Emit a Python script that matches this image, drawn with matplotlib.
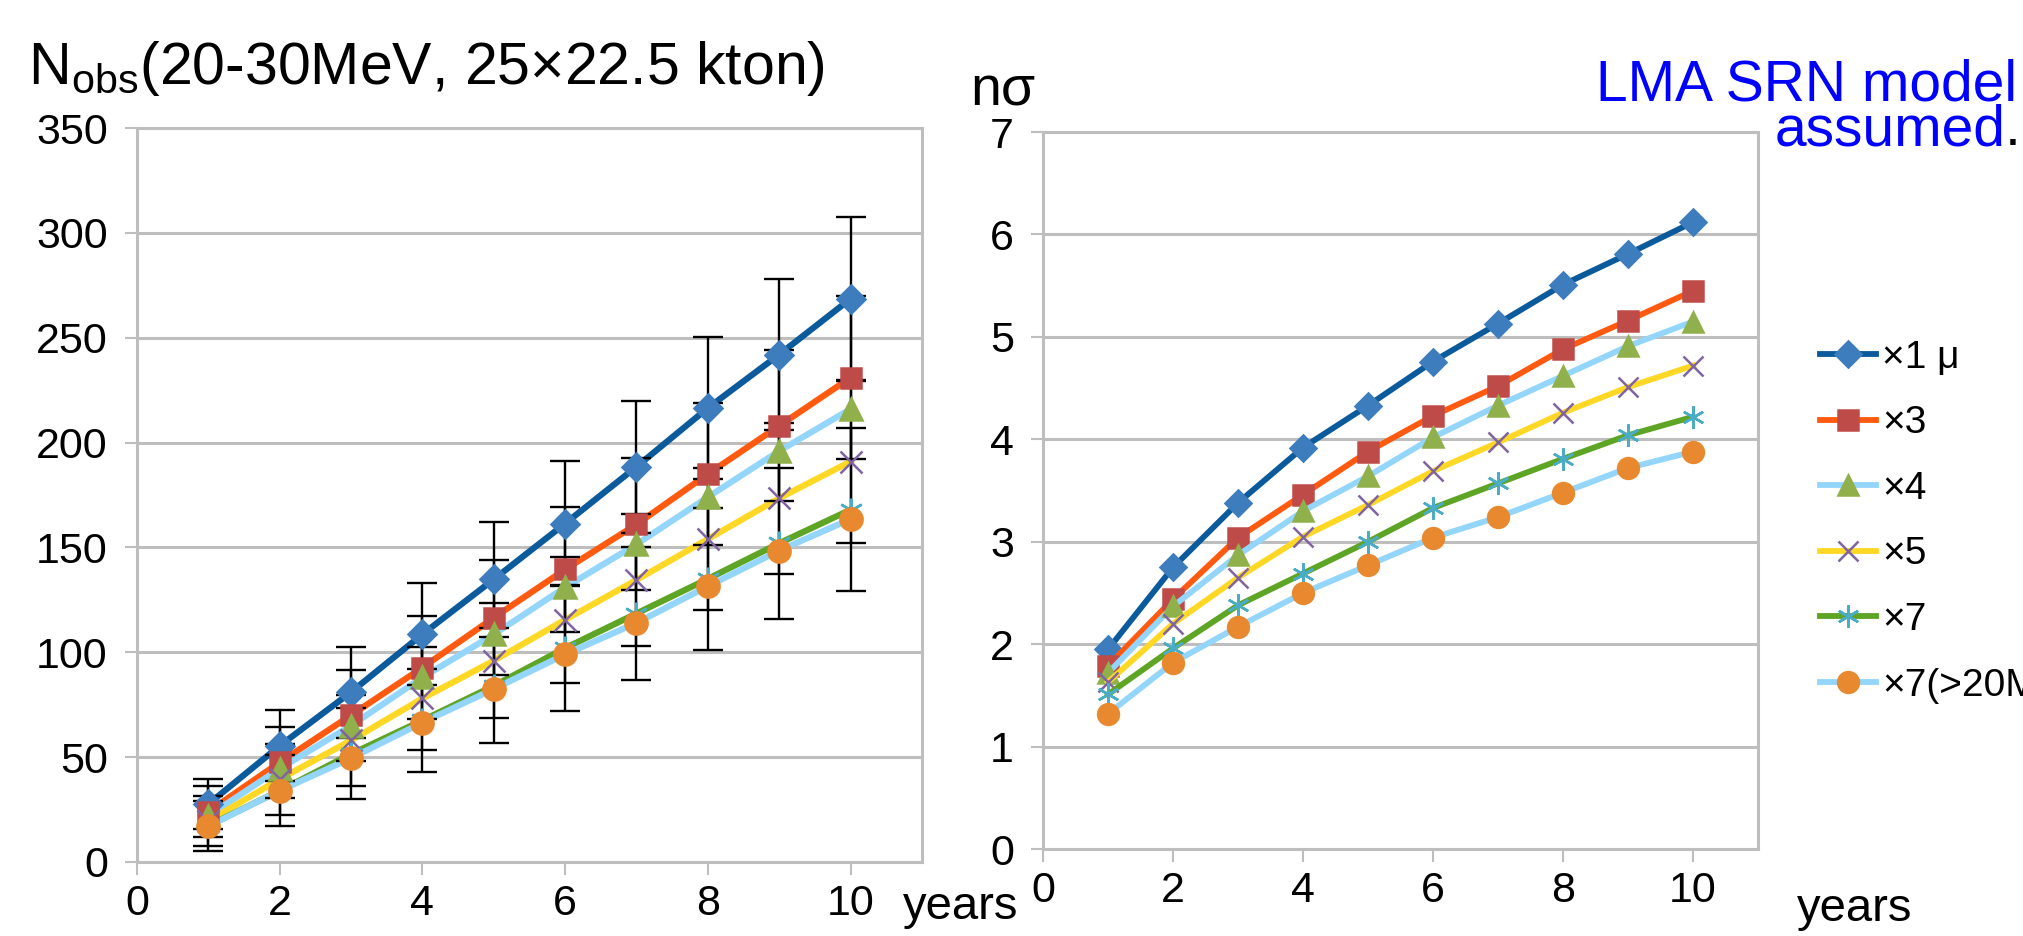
import matplotlib
matplotlib.use('Agg')
import matplotlib.pyplot as plt

plt.rcParams['font.family'] = ['Liberation Sans', 'DejaVu Sans']

# años de observación
years = [1, 2, 3, 4, 5, 6, 7, 8, 9, 10]
labels = ['×1 μ', '×3', '×4', '×5', '×7', '×7(>20MeV)']

# N_obs (20-30 MeV, 25x22.5 kton)
n_mu1 = [27.6, 55.4, 81, 108.6, 134.8, 161.4, 188.5, 216.5, 242, 268.6]
n_x3 = [24, 47.5, 70, 92.7, 116.5, 139.5, 161, 185, 208, 231]
n_x4 = [22, 44.5, 65, 88, 108.5, 131, 151.5, 174, 196, 216]
n_x5 = [19.5, 39.5, 58, 78, 96, 115.5, 134.5, 154, 173.5, 191]
n_x7 = [17.3, 34, 51.5, 67.5, 84, 102, 118.5, 135, 152, 168]
n_x7e = [17, 34, 49.5, 66.5, 82.5, 99, 114, 131.5, 148.5, 163.5]
err_n = [12, 17, 21.7, 24.4, 27.4, 30, 31.5, 34, 36, 39]

# significancia n sigma
s_mu1 = [1.95, 2.75, 3.38, 3.92, 4.33, 4.76, 5.13, 5.51, 5.81, 6.12]
s_x3 = [1.79, 2.44, 3.04, 3.46, 3.88, 4.23, 4.52, 4.88, 5.16, 5.45]
s_x4 = [1.72, 2.37, 2.87, 3.30, 3.64, 4.02, 4.33, 4.62, 4.91, 5.15]
s_x5 = [1.63, 2.20, 2.65, 3.05, 3.36, 3.69, 3.97, 4.26, 4.51, 4.72]
s_x7 = [1.51, 1.96, 2.38, 2.69, 3.00, 3.33, 3.57, 3.81, 4.04, 4.22]
s_x7e = [1.32, 1.82, 2.17, 2.50, 2.77, 3.04, 3.24, 3.48, 3.72, 3.88]

n_series = [n_mu1, n_x3, n_x4, n_x5, n_x7, n_x7e]
s_series = [s_mu1, s_x3, s_x4, s_x5, s_x7, s_x7e]
con_error = [True, True, False, True, True, False]

# estilo de cada serie: color de linea, marcador, color de marcador, tamaño
line_colors = ['#0B5A9B', '#FF5A10', '#93D5FB', '#FFD826', '#5EA425', '#93D5FB']
markers = ['D', 's', '^', 'x', (6, 2, 0), 'o']
marker_colors = ['#3D7DBE', '#BE4B48', '#8FB04A', '#8064A2', '#4BACC6', '#E8892F']
marker_sizes = [14, 15, 16, 16, 17, 16]

grid_gray = '#BEBEBE'
fig = plt.figure(figsize=(20.23, 9.36), dpi=100)

ax1 = fig.add_axes([0.0677, 0.0791, 0.388, 0.784])
ax2 = fig.add_axes([0.5156, 0.0929, 0.3534, 0.766])


def estilo_ejes(ax, ymax, ystep):
    ax.set_xlim(0, 11)
    ax.set_ylim(0, ymax)
    ax.set_xticks([0, 2, 4, 6, 8, 10])
    ax.set_yticks([ystep * i for i in range(int(round(ymax / ystep)) + 1)])
    ax.grid(axis='y', color=grid_gray, lw=2.2, zorder=0)
    ax.set_axisbelow(True)
    for s in ax.spines.values():
        s.set_color(grid_gray)
        s.set_linewidth(2.2)
    ax.tick_params(axis='both', colors=grid_gray, labelcolor='black',
                   labelsize=31, length=9, width=1.5)
    ax.tick_params(axis='y', pad=12)
    ax.tick_params(axis='x', pad=7)


estilo_ejes(ax1, 350, 50)
estilo_ejes(ax2, 7, 1)

# grafica izquierda: lineas, barras de error y marcadores
for i in range(6):
    ax1.plot(years, n_series[i], color=line_colors[i], lw=4.5, zorder=2)
for i in range(6):
    if con_error[i]:
        ax1.errorbar(years, n_series[i], yerr=err_n, fmt='none', ecolor='black',
                     elinewidth=1.7, capsize=11, capthick=1.7, zorder=3)
for i in range(6):
    ax1.plot(years, n_series[i], ls='none', marker=markers[i], ms=marker_sizes[i],
             mfc=marker_colors[i], mec=marker_colors[i], mew=1.8, zorder=4)

# grafica derecha
handles = []
for i in range(6):
    h, = ax2.plot(years, s_series[i], color=line_colors[i], lw=4.2,
                  marker=markers[i], ms=marker_sizes[i] - 1,
                  mfc=marker_colors[i], mec=marker_colors[i], mew=1.8)
    handles.append(h)

fig.legend(handles, labels, loc='upper left', bbox_to_anchor=(0.8997, 0.637),
           frameon=False, fontsize=28, handlelength=1.45, handletextpad=0.15,
           labelspacing=0.76, borderpad=0, borderaxespad=0)

# textos
fig.text(0.0138, 0.910, r'N$_\mathregular{obs}$(20-30MeV, 25×22.5 kton)',
         fontsize=42.5, va='baseline', ha='left')
fig.text(0.4795, 0.887, 'nσ', fontsize=40, va='baseline', ha='left')
fig.text(0.789, 0.893, 'LMA SRN model', fontsize=41, color='#0000FF',
         va='baseline', ha='left')
t_asu = fig.text(0.877, 0.845, 'assumed', fontsize=41, color='#0000FF',
                 va='baseline', ha='left')
# el punto final va en negro, pegado a "assumed"
ax1.annotate('.', xy=(1, 0), xycoords=t_asu, fontsize=41, color='black',
             va='bottom', ha='left', annotation_clip=False)
fig.text(0.4464, 0.018, 'years', fontsize=34, va='baseline', ha='left')
fig.text(0.888, 0.016, 'years', fontsize=34, va='baseline', ha='left')

fig.savefig('out.png', dpi=100)
